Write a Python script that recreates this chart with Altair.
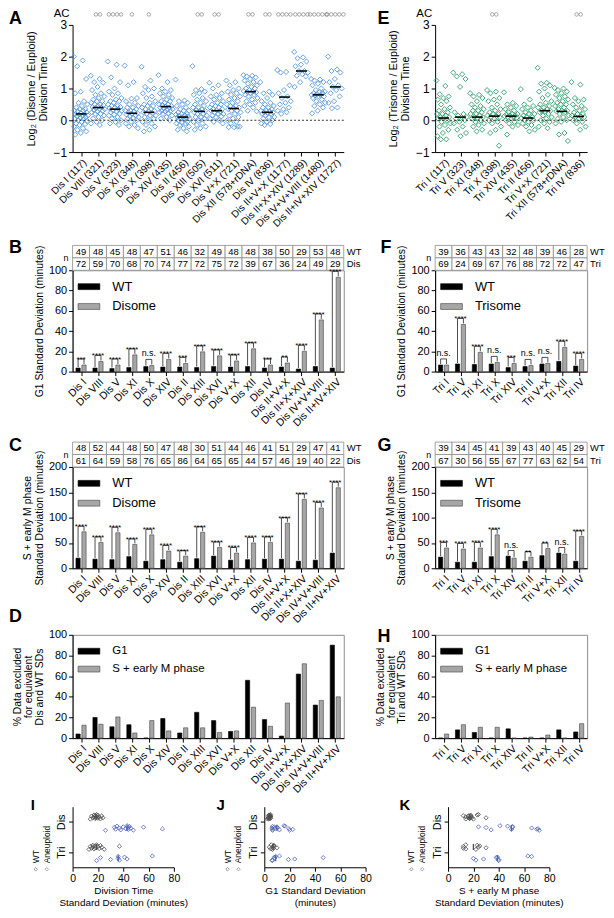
import altair as alt
import pandas as pd

FONT = "Liberation Sans"
BLUE = "#5596d8"
GREEN = "#2f9d6b"
INDIGO = "#4a5fb5"
GRAYBAR = "#a6a6a6"

# ---------------- category labels ----------------
dis_labels_a = ["Dis I (117)", "Dis VIII (321)", "Dis V (323)", "Dis XI (348)", "Dis X (398)",
                "Dis XIV (435)", "Dis II (456)", "Dis XIII (505)", "Dis XVI (511)", "Dis V+X (721)",
                "Dis XII (578+rDNA)", "Dis IV (836)", "Dis II+V+X (1177)", "Dis II+X+XIV (1289)",
                "Dis IV+V+VIII (1480)", "Dis II+IV+XIV (1727)"]
tri_labels_e = ["Tri I (117)", "Tri V (323)", "Tri XI (348)", "Tri X (398)", "Tri XIV (435)",
                "Tri II (456)", "Tri V+X (721)", "Tri XII (578+rDNA)", "Tri IV (836)"]
dis_labels = ["Dis I", "Dis VIII", "Dis V", "Dis XI", "Dis X", "Dis XIV", "Dis II", "Dis XIII",
              "Dis XVI", "Dis V+X", "Dis XII", "Dis IV", "Dis II+V+X", "Dis II+X+XIV",
              "Dis IV+V+VIII", "Dis II+IV+XIV"]
tri_labels = ["Tri I", "Tri V", "Tri XI", "Tri X", "Tri XIV", "Tri II", "Tri V+X", "Tri XII", "Tri IV"]

# ---------------- panel A: log2 disome/euploid division time ----------------
a_dis_I = [2.0, 1.88, 1.7, 1.3, 0.9, 0.85, 0.6, 0.55, 0.5, 0.45, 0.4, 0.35, 0.35, 0.3, 0.3, 0.28, 0.25,
           0.22, 0.2, 0.2, 0.18, 0.15, 0.15, 0.12, 0.1, 0.08, 0.05, 0.05, 0.0, -0.02, -0.05, -0.1, -0.12,
           -0.15, -0.2, -0.25, -0.3, -0.35, -0.4, -0.45]
a_dis_VIII = [1.4, 1.3, 1.2, 1.18, 1.05, 0.95, 0.85, 0.8, 0.75, 0.7, 0.65, 0.6, 0.6, 0.55, 0.5, 0.5, 0.48,
              0.45, 0.42, 0.4, 0.38, 0.35, 0.35, 0.32, 0.3, 0.28, 0.25, 0.2, 0.2, 0.15, 0.1, 0.05, 0.0,
              -0.05, -0.1, -0.15]
a_dis_V = [1.85, 1.75, 1.35, 1.2, 1.0, 0.9, 0.85, 0.8, 0.7, 0.65, 0.6, 0.6, 0.55, 0.5, 0.45, 0.45, 0.42,
           0.4, 0.38, 0.35, 0.3, 0.3, 0.28, 0.25, 0.2, 0.18, 0.15, 0.1, 0.05, 0.0, -0.05, -0.1, -0.15]
a_dis_XI = [1.72, 1.2, 1.1, 0.7, 0.68, 0.6, 0.55, 0.5, 0.45, 0.4, 0.4, 0.35, 0.3, 0.3, 0.28, 0.25, 0.22,
            0.2, 0.18, 0.15, 0.12, 0.1, 0.08, 0.05, 0.0, -0.05, -0.1, -0.15, -0.2, -0.25]
a_dis_X = [1.68, 1.25, 1.05, 1.0, 0.95, 0.85, 0.75, 0.7, 0.6, 0.55, 0.5, 0.45, 0.45, 0.4, 0.35, 0.35,
           0.3, 0.28, 0.25, 0.22, 0.2, 0.15, 0.15, 0.1, 0.05, 0.0, -0.05, -0.1, -0.15, -0.2, -0.3, -0.35]
a_dis_XIV = [1.42, 1.2, 1.0, 0.95, 0.9, 0.85, 0.8, 0.75, 0.7, 0.65, 0.6, 0.6, 0.55, 0.5, 0.5, 0.48, 0.45,
             0.43, 0.4, 0.4, 0.38, 0.35, 0.32, 0.3, 0.3, 0.28, 0.25, 0.22, 0.2, 0.15, 0.1, 0.05, 0.0]
a_dis_II = [1.28, 0.62, 0.6, 0.55, 0.5, 0.45, 0.4, 0.35, 0.3, 0.3, 0.25, 0.2, 0.2, 0.18, 0.15, 0.15, 0.12,
            0.1, 0.1, 0.08, 0.05, 0.05, 0.03, 0.0, -0.05, -0.08, -0.1, -0.1, -0.15, -0.2, -0.25, -0.3, -0.35]
a_dis_XIII = [1.7, 0.98, 0.95, 0.9, 0.85, 0.8, 0.7, 0.65, 0.6, 0.55, 0.5, 0.45, 0.4, 0.4, 0.35, 0.32, 0.3,
              0.28, 0.25, 0.2, 0.2, 0.15, 0.1, 0.1, 0.05, 0.0, -0.05, -0.1, -0.15, -0.2, -0.25, -0.3]
a_dis_XVI = [1.18, 1.1, 1.0, 0.85, 0.8, 0.75, 0.7, 0.65, 0.6, 0.55, 0.5, 0.5, 0.45, 0.4, 0.4, 0.35, 0.35,
             0.32, 0.3, 0.28, 0.25, 0.2, 0.2, 0.15, 0.12, 0.1, 0.05, 0.0, -0.05, -0.1]
a_dis_V_X = [1.25, 1.2, 1.1, 1.0, 0.95, 0.9, 0.85, 0.8, 0.75, 0.7, 0.65, 0.6, 0.55, 0.5, 0.45, 0.45, 0.4,
             0.38, 0.35, 0.3, 0.3, 0.25, 0.2, 0.15, 0.1, 0.05, 0.0, -0.05, -0.1, -0.2, -0.22, -0.22, -0.2]
a_dis_XII = [1.42, 1.4, 1.38, 1.35, 1.3, 1.25, 1.2, 1.15, 1.1, 1.05, 1.0, 1.0, 0.95, 0.92, 0.9, 0.9, 0.88,
             0.85, 0.8, 0.8, 0.75, 0.7, 0.65, 0.6, 0.55, 0.5, 0.45, 0.4, 0.3, 0.28]
a_dis_IV = [1.2, 0.9, 0.85, 0.8, 0.7, 0.6, 0.55, 0.5, 0.45, 0.4, 0.4, 0.35, 0.3, 0.3, 0.28, 0.25, 0.25,
            0.22, 0.2, 0.2, 0.15, 0.1, 0.1, 0.05, 0.0, -0.05, -0.1, -0.12, -0.15]
a_dis_II_V_X = [1.58, 1.52, 1.5, 1.1, 0.95, 0.85, 0.75, 0.7, 0.6, 0.55, 0.5, 0.4, 0.35, 0.3, 0.25, 0.2]
a_dis_II_X_XIV = [2.15, 1.98, 1.95, 1.85, 1.75, 1.7, 1.55, 1.55, 1.5, 1.45, 1.4, 1.38, 1.2, 1.05]
a_dis_IV_V_VIII = [1.3, 1.28, 1.25, 1.2, 1.15, 1.1, 1.0, 0.95, 0.9, 0.88, 0.85, 0.85, 0.82, 0.8, 0.8,
                   0.78, 0.75, 0.75, 0.7, 0.65, 0.6, 0.55, 0.5, 0.45, 0.4, 0.3, 0.22]
a_dis_II_IV_XIV = [2.0, 1.6, 1.55, 1.5, 1.3, 1.2, 1.1, 1.05, 1.0, 0.95, 0.85, 0.75, 0.6, 0.55, 0.4, 0.38]
a_medians = [0.2, 0.4, 0.35, 0.22, 0.25, 0.43, 0.1, 0.28, 0.3, 0.37, 0.9, 0.25, 0.73, 1.55, 0.8, 1.05]
a_ac_counts = [0, 2, 4, 1, 1, 0, 0, 2, 2, 0, 2, 2, 4, 4, 5, 5]

# ---------------- panel E: log2 trisome/euploid division time ----------------
e_tri_I = [1.25, 1.08, 0.82, 0.75, 0.7, 0.65, 0.6, 0.5, 0.4, 0.35, 0.3, 0.25, 0.2, 0.2, 0.15, 0.1, 0.1,
           0.08, 0.05, 0.0, -0.05, -0.1, -0.15, -0.2, -0.3, -0.4, -0.5, -0.6, -0.6]
e_tri_V = [1.5, 1.45, 1.38, 1.3, 1.05, 0.25, 0.2, 0.15, 0.1, 0.1, 0.05, 0.0, -0.05, -0.1, -0.2, -0.3,
           -0.4, -0.5]
e_tri_XI = [0.85, 0.8, 0.75, 0.7, 0.6, 0.5, 0.45, 0.4, 0.35, 0.3, 0.3, 0.25, 0.2, 0.2, 0.15, 0.1, 0.1,
            0.08, 0.05, 0.0, -0.05, -0.1, -0.15, -0.2, -0.3, -0.35]
e_tri_X = [0.95, 0.9, 0.85, 0.7, 0.65, 0.6, 0.5, 0.4, 0.35, 0.3, 0.25, 0.2, 0.2, 0.15, 0.13, 0.1, 0.1,
           0.05, 0.0, -0.05, -0.1, -0.2, -0.3, -0.4, -0.8]
e_tri_XIV = [0.88, 0.55, 0.5, 0.45, 0.4, 0.35, 0.3, 0.25, 0.2, 0.2, 0.18, 0.15, 0.15, 0.13, 0.1, 0.1,
             0.08, 0.05, 0.0, -0.05, -0.1, -0.15, -0.2, -0.45]
e_tri_II = [0.98, 0.65, 0.5, 0.45, 0.4, 0.35, 0.3, 0.25, 0.2, 0.2, 0.15, 0.1, 0.1, 0.07, 0.05, 0.0, 0.0,
            -0.05, -0.1, -0.15, -0.2, -0.3, -0.35]
e_tri_V_X = [1.65, 1.18, 1.15, 1.1, 1.0, 0.9, 0.8, 0.7, 0.6, 0.55, 0.5, 0.45, 0.4, 0.4, 0.35, 0.3, 0.3,
             0.28, 0.25, 0.2, 0.15, 0.1, 0.05, 0.0, -0.05, -0.1, -0.2, -0.25]
e_tri_XII = [1.02, 1.0, 0.95, 0.9, 0.85, 0.8, 0.75, 0.7, 0.65, 0.6, 0.55, 0.5, 0.5, 0.45, 0.4, 0.35, 0.3,
             0.3, 0.28, 0.25, 0.2, 0.15, 0.1, 0.05, 0.0, -0.05, -0.1, -0.4, -0.45, -0.65]
e_tri_IV = [1.2, 1.12, 0.7, 0.65, 0.6, 0.5, 0.45, 0.4, 0.35, 0.3, 0.25, 0.2, 0.2, 0.15, 0.12, 0.1, 0.1,
            0.05, 0.0, -0.05, -0.1, -0.2, -0.3]
e_medians = [0.07, 0.1, 0.1, 0.13, 0.13, 0.07, 0.3, 0.28, 0.12]
e_ac_counts = [0, 0, 0, 2, 0, 0, 0, 0, 2]

# ---------------- panel B: G1 SD, WT vs disome ----------------
b_n_wt = [49, 48, 45, 48, 47, 51, 46, 32, 49, 48, 48, 38, 50, 29, 53, 48]
b_n_dis = [72, 59, 70, 68, 70, 74, 77, 72, 75, 72, 39, 67, 36, 24, 49, 29]
b_wt = [3.5, 3.5, 3.0, 4.0, 5.0, 4.5, 4.5, 4.0, 5.0, 4.5, 5.0, 3.5, 4.5, 2.5, 5.0, 3.5]
b_dis = [6.5, 10.0, 6.5, 16.5, 6.0, 12.0, 8.0, 19.5, 15.5, 10.5, 22.5, 6.5, 8.5, 20.0, 51.0, 93.0]
b_sig = ["***", "****", "****", "****", "n.s.", "****", "***", "****", "****", "****", "****", "***",
         "**", "****", "****", "****"]

# ---------------- panel C: S + early M SD, WT vs disome ----------------
c_n_wt = [48, 52, 44, 48, 50, 47, 48, 30, 51, 44, 46, 41, 51, 29, 47, 41]
c_n_dis = [61, 64, 59, 58, 76, 65, 86, 64, 65, 65, 44, 57, 46, 19, 40, 22]
c_wt = [20, 18, 17, 23, 14, 17, 12, 19, 24, 16, 17, 18, 18, 14, 16, 30]
c_dis = [72, 51, 70, 47, 66, 34, 24, 71, 41, 30, 50, 51, 89, 136, 119, 159]
c_sig = ["****"] * 16

# ---------------- panel D: % data excluded (disome) ----------------
d_g1 = [4, 20, 11, 13, 0, 19, 5, 25, 17, 6.5, 56, 18, 2, 62, 32, 90]
d_sm = [12.5, 13.5, 20.5, 5, 17, 7, 10, 10, 5.5, 7, 30, 11.5, 34, 72, 36.5, 40]

# ---------------- panel F: G1 SD, WT vs trisome ----------------
f_n_wt = [39, 36, 43, 43, 32, 48, 39, 46, 28]
f_n_tri = [69, 24, 69, 67, 76, 88, 72, 72, 47]
f_wt = [6.5, 7.5, 7.0, 7.5, 4.0, 5.0, 7.5, 10.0, 5.5]
f_tri = [6.5, 46.5, 19.0, 9.0, 8.0, 6.0, 8.0, 24.0, 12.0]
f_sig = ["n.s.", "****", "****", "n.s.", "***", "n.s.", "n.s.", "****", "****"]

# ---------------- panel G: S + early M SD, WT vs trisome ----------------
g_n_wt = [39, 34, 45, 41, 39, 43, 40, 45, 29]
g_n_tri = [67, 30, 56, 55, 67, 77, 63, 62, 54]
g_wt = [22, 12, 12, 23, 24, 14, 25, 30, 14]
g_tri = [40, 38, 40, 66, 20, 22, 39, 28, 63]
g_sig = ["***", "****", "****", "****", "n.s.", "**", "**", "n.s.", "****"]

# ---------------- panel H: % data excluded (trisome) ----------------
h_g1 = [0, 8, 5.5, 0, 9, 0, 0, 8, 6]
h_sm = [4, 13, 10.5, 10.5, 0, 1, 3, 0, 14]

# ---------------- panels I, J, K: SD summaries ----------------
i_dis_wt = [14, 15, 16, 17, 17, 18, 18, 18.5, 19, 19, 20, 20, 21, 22, 23, 24]
i_dis_an = [26, 33, 34, 35, 37, 38, 40, 42, 43, 44, 44, 45, 46, 48, 56, 71]
i_tri_wt = [13, 14, 15, 16, 16, 17, 17.5, 18, 19, 20, 21, 22, 23, 25, 37]
i_tri_an = [19, 22, 30, 36, 36, 37, 41, 43, 63]
i_medians = [18.5, 43, 19, 36]

j_dis_wt = [3.5, 3.5, 3.0, 4.0, 5.0, 4.5, 4.5, 4.0, 5.0, 4.5, 5.0, 3.5, 4.5, 2.5, 5.0, 3.5]
j_dis_an = [6.5, 10.0, 6.5, 16.5, 6.0, 12.0, 8.0, 19.5, 15.5, 10.5, 22.5, 6.5, 8.5, 20.0]
j_tri_wt = [6.5, 7.5, 7.0, 7.5, 4.0, 5.0, 7.5, 10.0, 5.5]
j_tri_an = [6.5, 46.5, 19.0, 9.0, 8.0, 6.0, 8.0, 24.0, 12.0]
j_medians = [4.5, 10, 7, 9]

k_dis_wt = [20, 18, 17, 23, 14, 17, 12, 19, 24, 16, 17, 18, 18, 14, 16, 30]
k_dis_an = [72, 51, 70, 47, 66, 34, 24, 71, 41, 30, 50, 51]
k_tri_wt = [22, 12, 12, 23, 24, 14, 25, 30, 14]
k_tri_an = [40, 38, 40, 66, 20, 22, 39, 28, 63]
k_medians = [17, 50, 20, 39]


# ================= helpers =================
def jit(k, w):
    return ((k * 0.6180339887) % 1.0 - 0.5) * w


def letter_layer(letter, dx, dy, size=18):
    return alt.Chart(pd.DataFrame({"t": [letter]})).mark_text(
        font=FONT, fontSize=size, fontWeight="bold", align="left", baseline="alphabetic", color="#000"
    ).encode(x=alt.value(dx), y=alt.value(dy), text="t:N")


def spacer(top, bottom, xpos=0):
    # invisible vertical rule that fixes the layout extent of a panel above/below its plot area
    return alt.Chart(pd.DataFrame({"s": [0]})).mark_rule(opacity=0, strokeOpacity=0).encode(
        x=alt.value(xpos), y=alt.value(-top), y2=alt.value(bottom))


def cat_axis(labels, size=10):
    arr = "[" + ",".join("'" + s + "'" for s in labels) + "]"
    return alt.Axis(values=list(range(len(labels))), tickCount=100, labelExpr=arr + "[datum.value]",
                    labelAngle=-45, labelFontSize=size, labelOverlap=False, labelFlush=False,
                    title=None, grid=False, tickSize=4, labelPadding=1)


def y_axis(values, title, tsize=10.5, lsize=11, pad=4, lh=None):
    kw = {}
    if lh is not None:
        kw["titleLineHeight"] = lh
    return alt.Axis(values=values, tickCount=100, title=title, grid=False, tickSize=4,
                    labelFontSize=lsize, titleFontSize=tsize, titlePadding=pad, format="d",
                    labelOverlap=False, labelFlush=False, **kw)


def scatter_panel(labels, series, medians, ac, color, ytitle, width, height, letter, ldx, ldy,
                  top, bottom):
    n = len(labels)
    rows = []
    for i, vals in enumerate(series):
        for k, v in enumerate(vals):
            rows.append({"x": i + jit(k, 0.85), "y": v})
    xs = alt.Scale(domain=[-0.5, n - 0.5], nice=False, zero=False)
    ys = alt.Scale(domain=[-1, 3], nice=False, zero=False)
    pts = alt.Chart(pd.DataFrame(rows)).mark_point(
        shape="diamond", filled=False, size=26, strokeWidth=0.9, color=color, opacity=1
    ).encode(x=alt.X("x:Q", scale=xs, axis=cat_axis(labels, 10)),
             y=alt.Y("y:Q", scale=ys, axis=y_axis([-1, 0, 1, 2, 3], ytitle, 11, 12, 5, 12)))
    zero = alt.Chart(pd.DataFrame({"y": [0]})).mark_rule(
        color="#000", strokeDash=[2, 2], strokeWidth=0.8).encode(y="y:Q")
    med = pd.DataFrame({"x": [i - 0.32 for i in range(n)], "x2": [i + 0.32 for i in range(n)],
                        "y": medians})
    medl = alt.Chart(med).mark_rule(color="#000", strokeWidth=1.6).encode(x="x:Q", x2="x2:Q", y="y:Q")
    acr = []
    for i, c in enumerate(ac):
        for j in range(c):
            acr.append({"x": i + (j - (c - 1) / 2) * 0.24})
    acl = alt.Chart(pd.DataFrame(acr)).mark_point(
        shape="circle", filled=False, size=13, color="#555", strokeWidth=0.7
    ).encode(x="x:Q", y=alt.datum(3.33))
    actxt = alt.Chart(pd.DataFrame({"t": ["AC"]})).mark_text(
        font=FONT, fontSize=11.5, align="right", baseline="middle", color="#000"
    ).encode(x=alt.value(-3), y=alt.datum(3.33), text="t:N")
    return alt.layer(pts, zero, medl, acl, actxt, letter_layer(letter, ldx, ldy),
                     spacer(top, height + bottom)).properties(width=width, height=height)


def bar_panel(labels, v1, v2, names, ymax, ystep, ytitle, width, height, letter, ldx, ldy,
              top, bottom, sig=None, pad=0.0, gap=0.0, n1=None, n2=None, row2=None,
              legend_size=13, tsize=10.5, lh=None, extra_letter=None):
    n = len(labels)
    xs = alt.Scale(domain=[-0.5, n - 0.5], nice=False, zero=False)
    ys = alt.Scale(domain=[0, ymax], nice=False, zero=False)
    xax = cat_axis(labels, 10.5)
    yax = y_axis(list(range(0, ymax + 1, ystep)), ytitle, tsize, 11, 4, lh)
    layers = []
    if n1 is not None:
        rh = ymax * 12.5 / height
        trows = []
        for i in range(n):
            trows.append({"x": i - 0.5, "x2": i + 0.5, "y": ymax + rh, "y2": ymax + 2 * rh,
                          "xm": i, "ym": ymax + 1.5 * rh, "v": str(n1[i])})
            trows.append({"x": i - 0.5, "x2": i + 0.5, "y": ymax, "y2": ymax + rh,
                          "xm": i, "ym": ymax + 0.5 * rh, "v": str(n2[i])})
        tdf = pd.DataFrame(trows)
        layers.append(alt.Chart(tdf).mark_rect(fill="white", stroke="#8c8c8c", strokeWidth=0.8).encode(
            x=alt.X("x:Q", scale=xs, axis=xax), x2="x2:Q",
            y=alt.Y("y:Q", scale=ys, axis=yax), y2="y2:Q"))
        layers.append(alt.Chart(tdf).mark_text(font=FONT, fontSize=9.5, color="#000").encode(
            x=alt.X("xm:Q", axis=xax), y=alt.Y("ym:Q", axis=yax), text="v:N"))
        side = pd.DataFrame({"t": ["WT", row2], "ym": [ymax + 1.5 * rh, ymax + 0.5 * rh]})
        layers.append(alt.Chart(side).mark_text(font=FONT, fontSize=9.5, align="left", dx=3,
                                                color="#000").encode(
            x=alt.datum(n - 0.5), y=alt.Y("ym:Q", axis=yax), text="t:N"))
        layers.append(alt.Chart(pd.DataFrame({"t": ["n"]})).mark_text(
            font=FONT, fontSize=9, align="right", dx=-4, color="#000").encode(
            x=alt.datum(-0.5), y=alt.datum(ymax + rh), text="t:N"))
    bars = []
    for i in range(n):
        bars.append({"x": i - 0.3, "x2": i - 0.05, "y": v1[i], "g": names[0]})
        bars.append({"x": i + 0.05, "x2": i + 0.3, "y": v2[i], "g": names[1]})
    leg = alt.Legend(orient="top-left", offset=5, padding=0, title=None,
                     symbolType="M-1,-0.27H1V0.27H-1Z", symbolSize=480, labelFontSize=legend_size,
                     labelOffset=12, rowPadding=1, symbolStrokeWidth=0.6, symbolStrokeColor="#333",
                     labelColor="#000")
    layers.append(alt.Chart(pd.DataFrame(bars)).mark_rect(strokeWidth=0.6).encode(
        x=alt.X("x:Q", scale=xs, axis=xax), x2="x2:Q",
        y=alt.Y("y:Q", scale=ys, axis=yax),
        y2=alt.datum(0),
        color=alt.Color("g:N", scale=alt.Scale(domain=list(names), range=["#000000", GRAYBAR]),
                        legend=leg),
        stroke=alt.Stroke("g:N", scale=alt.Scale(domain=list(names), range=["#000000", "#444444"]),
                          legend=None)))
    if sig is not None:
        br, stars, ns = [], [], []
        for i in range(n):
            lvl = max(v1[i], v2[i]) + pad
            br.append({"x": i - 0.175, "x2": i - 0.175, "y": v1[i] + gap, "y2": lvl})
            br.append({"x": i + 0.175, "x2": i + 0.175, "y": v2[i] + gap, "y2": lvl})
            br.append({"x": i - 0.175, "x2": i + 0.175, "y": lvl, "y2": lvl})
            if "*" in sig[i]:
                stars.append({"x": i, "y": lvl, "t": sig[i]})
            else:
                ns.append({"x": i, "y": lvl, "t": sig[i]})
        layers.append(alt.Chart(pd.DataFrame(br)).mark_rule(color="#000", strokeWidth=0.7).encode(
            x=alt.X("x:Q", axis=xax), x2="x2:Q", y=alt.Y("y:Q", axis=yax), y2="y2:Q"))
        if stars:
            layers.append(alt.Chart(pd.DataFrame(stars)).mark_text(
                font=FONT, fontSize=8, baseline="alphabetic", dy=3, color="#000").encode(
                x=alt.X("x:Q", axis=xax), y=alt.Y("y:Q", axis=yax), text="t:N"))
        if ns:
            layers.append(alt.Chart(pd.DataFrame(ns)).mark_text(
                font=FONT, fontSize=9, baseline="bottom", dy=-1, color="#000").encode(
                x=alt.X("x:Q", axis=xax), y=alt.Y("y:Q", axis=yax), text="t:N"))
    if letter is not None:
        layers.append(letter_layer(letter, ldx, ldy))
    if extra_letter is not None:
        layers.append(letter_layer(*extra_letter))
    layers.append(spacer(top, height + bottom))
    return alt.layer(*layers).properties(width=width, height=height,
                                         view=alt.ViewBackground(stroke="#8c8c8c"))


def sd_panel(dwt, dan, twt, tan, meds, xtitle, letter, ldx, top=11, left=54):
    rows = []
    mrows = []
    groups = [(1, dwt, dan, meds[0], meds[1]), (0, twt, tan, meds[2], meds[3])]
    for base, wl, al, mw, ma in groups:
        for k, v in enumerate(wl):
            rows.append({"x": v, "y": base + 0.17 + jit(k, 0.16), "g": "WT"})
        for k, v in enumerate(al):
            rows.append({"x": v, "y": base - 0.2 + jit(k, 0.16), "g": "Aneuploid"})
        mrows.append({"x": mw, "y": base + 0.07, "y2": base + 0.27, "g": "WT"})
        mrows.append({"x": ma, "y": base - 0.3, "y2": base - 0.1, "g": "Aneuploid"})
    cs = alt.Scale(domain=["WT", "Aneuploid"], range=["#4d4d4d", INDIGO])
    xax = alt.Axis(values=[0, 20, 40, 60, 80], tickCount=100, title=xtitle, grid=False, tickSize=4,
                   labelFontSize=10.5, titleFontSize=10, titlePadding=2, format="d",
                   labelFlush=False, labelOverlap=False)
    yax = alt.Axis(values=[0, 1], tickCount=100, labelExpr="datum.value == 1 ? 'Dis' : 'Tri'",
                   labelAngle=-90, labelAlign="center", labelBaseline="bottom",
                   labelFontSize=11, title=None, grid=False, tickSize=4, labelPadding=2)
    pts = alt.Chart(pd.DataFrame(rows)).mark_point(
        shape="diamond", filled=False, size=18, strokeWidth=0.8, opacity=1
    ).encode(
        x=alt.X("x:Q", scale=alt.Scale(domain=[0, 80], nice=False), axis=xax),
        y=alt.Y("y:Q", scale=alt.Scale(domain=[-0.5, 1.5], nice=False, zero=False), axis=yax),
        color=alt.Color("g:N", scale=cs, legend=None))
    med = alt.Chart(pd.DataFrame(mrows)).mark_rule(strokeWidth=1.3).encode(
        x=alt.X("x:Q", axis=xax), y=alt.Y("y:Q", axis=yax), y2="y2:Q",
        color=alt.Color("g:N", scale=cs, legend=None))
    legt = alt.Chart(pd.DataFrame({"t": ["WT", "Aneuploid"], "px": [-37, -26]})).mark_text(
        font=FONT, fontSize=8.5, angle=270, align="left", baseline="middle", color="#000"
    ).encode(x=alt.X("px:Q", scale=None), y=alt.value(57), text="t:N")
    legd = alt.Chart(pd.DataFrame({"g": ["WT", "Aneuploid"], "px": [-37, -26]})).mark_point(
        shape="diamond", filled=False, size=12, strokeWidth=0.8
    ).encode(x=alt.X("px:Q", scale=None), y=alt.value(63),
             color=alt.Color("g:N", scale=cs, legend=None))
    layers = [pts, med, legt, legd, letter_layer(letter, ldx, 3, 15), spacer(top, 61, -left)]
    return alt.layer(*layers).properties(width=102, height=61)


# ================= panels =================
A = scatter_panel(dis_labels_a,
                  [a_dis_I, a_dis_VIII, a_dis_V, a_dis_XI, a_dis_X, a_dis_XIV, a_dis_II, a_dis_XIII,
                   a_dis_XVI, a_dis_V_X, a_dis_XII, a_dis_IV, a_dis_II_V_X, a_dis_II_X_XIV,
                   a_dis_IV_V_VIII, a_dis_II_IV_XIV],
                  a_medians, a_ac_counts, BLUE, ["Log₂ (Disome / Euploid)", "Division Time"],
                  273, 128, "A", -64, -1, 16, 82)
E = scatter_panel(tri_labels_e,
                  [e_tri_I, e_tri_V, e_tri_XI, e_tri_X, e_tri_XIV, e_tri_II, e_tri_V_X, e_tri_XII,
                   e_tri_IV],
                  e_medians, e_ac_counts, GREEN, ["Log₂ (Trisome / Euploid)", "Division Time"],
                  153, 128, "E", -58, -1, 16, 82)
B = bar_panel(dis_labels, b_wt, b_dis, ("WT", "Disome"), 100, 20, "G1 Standard Deviation (minutes)",
              273, 102, "B", -64, -17, 36, 58, sig=b_sig, pad=6, gap=1, n1=b_n_wt, n2=b_n_dis,
              row2="Dis")
F = bar_panel(tri_labels, f_wt, f_tri, ("WT", "Trisome"), 100, 20, "G1 Standard Deviation (minutes)",
              153, 102, "F", -55, -17, 36, 58, sig=f_sig, pad=6, gap=1, n1=f_n_wt, n2=f_n_tri,
              row2="Tri")
C = bar_panel(dis_labels, c_wt, c_dis, ("WT", "Disome"), 200, 50,
              ["S + early M phase", "Standard Deviation (minutes)"],
              273, 102, "C", -64, -16, 36, 58, sig=c_sig, pad=11, gap=2, n1=c_n_wt, n2=c_n_dis,
              row2="Dis", lh=12, extra_letter=("D", -64, 156))
G = bar_panel(tri_labels, g_wt, g_tri, ("WT", "Trisome"), 200, 50,
              ["S + early M phase", "Standard Deviation (minutes)"],
              153, 102, "G", -58, -16, 36, 58, sig=g_sig, pad=11, gap=2, n1=g_n_wt, n2=g_n_tri,
              row2="Tri", lh=12)
D = bar_panel(dis_labels, d_g1, d_sm, ("G1", "S + early M phase"), 100, 20,
              ["% Data excluded", "for equivalent", "Dis and WT SDs"],
              273, 104, None, 0, 0, 7, 57, legend_size=11.5, lh=11)
H = bar_panel(tri_labels, h_g1, h_sm, ("G1", "S + early M phase"), 100, 20,
              ["% Data excluded", "for equivalent", "Tri and WT SDs"],
              153, 104, "H", -58, 7, 7, 57, legend_size=11.5, lh=11)

I = sd_panel(i_dis_wt, i_dis_an, i_tri_wt, i_tri_an, i_medians,
             ["Division Time", "Standard Deviation (minutes)"], "I", -42, left=54)
J = sd_panel(j_dis_wt, j_dis_an, j_tri_wt, j_tri_an, j_medians,
             ["G1 Standard Deviation", "(minutes)"], "J", -48)
K = sd_panel(k_dis_wt, k_dis_an, k_tri_wt, k_tri_an, k_medians,
             ["S + early M phase", "Standard Deviation (minutes)"], "K", -49)

grid = alt.concat(A, E, B, F, C, G, D, H, columns=2, align="each",
                  spacing=alt.RowColnumber(row=0, column=12)).resolve_scale(
    color="independent", stroke="independent")
bottom = alt.hconcat(I, J, K, spacing=23)

chart = alt.concat(grid, bottom, columns=1, align="none", spacing=0, center=False).resolve_scale(
    color="independent", stroke="independent").properties(
    padding={"top": -3, "left": 0, "right": 0, "bottom": 0})
chart = chart.configure(font=FONT).configure_view(stroke=None).configure_axis(
    labelFont=FONT, titleFont=FONT, labelColor="#000", titleColor="#000", domainColor="#000",
    tickColor="#000", titleFontWeight="normal", grid=False
).configure_legend(labelFont=FONT).configure_text(font=FONT)

chart.save("out.html", embed_options={"renderer": "svg", "actions": False})
